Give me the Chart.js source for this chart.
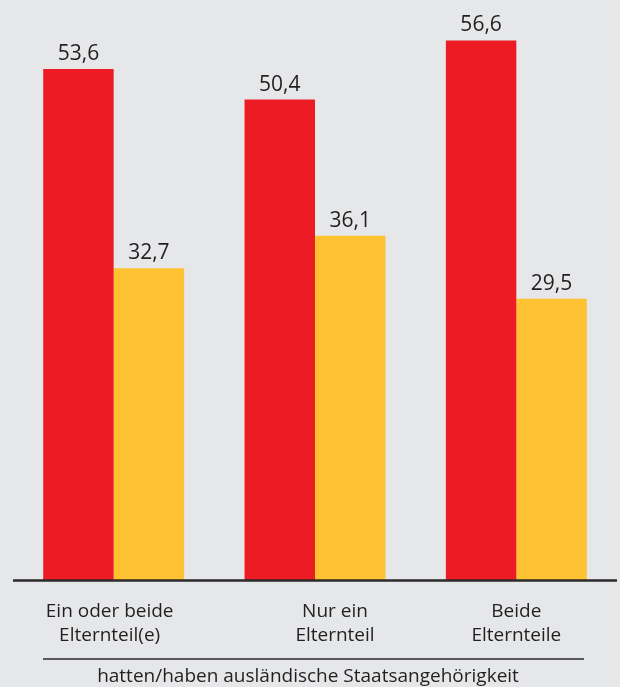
<!DOCTYPE html>
<html>
<head>
<meta charset="utf-8">
<script src="https://cdn.jsdelivr.net/npm/chart.js@4/dist/chart.umd.min.js"></script>
<style>
  html, body { margin: 0; padding: 0; background: #e6e7e9; }
  #wrap { position: relative; width: 620px; height: 687px; }
</style>
</head>
<body>
<div id="wrap"><canvas id="chart" width="620" height="687"></canvas></div>
<script>
// chart data
const categories = [["Ein oder beide", "Elternteil(e)"], ["Nur ein", "Elternteil"], ["Beide", "Elternteile"]]
const seriesRed = [53.6, 50.4, 56.6]
const seriesYellow = [32.7, 36.1, 29.5]
const footerText = "hatten/haben ausländische Staatsangehörigkeit"

const FONT = "'Open Sans', 'Noto Sans', sans-serif"
const TEXT = "#231f20"

// value labels above each bar
const valueLabels = {
  id: "valueLabels",
  afterDatasetsDraw(chart) {
    const ctx = chart.ctx
    ctx.save()
    ctx.font = "21px " + FONT
    ctx.fillStyle = TEXT
    ctx.textAlign = "center"
    ctx.textBaseline = "alphabetic"
    chart.data.datasets.forEach((ds, i) => {
      chart.getDatasetMeta(i).data.forEach((bar, j) => {
        ctx.fillText(ds.data[j].toFixed(1).replace(".", ","), bar.x, bar.y - 9)
      })
    })
    ctx.restore()
  }
}

// category labels, baseline and footer
const axisDecor = {
  id: "axisDecor",
  afterDraw(chart) {
    const ctx = chart.ctx
    const x = chart.scales.x
    const bottom = chart.chartArea.bottom
    ctx.save()
    // baseline
    ctx.strokeStyle = "#2b2a2b"
    ctx.lineWidth = 2.5
    ctx.beginPath()
    ctx.moveTo(13, bottom + 0.5)
    ctx.lineTo(617, bottom + 0.5)
    ctx.stroke()

    // category labels (middle one sits a bit right in the original)
    const shift = [-4, 20, 0]
    ctx.font = "19px " + FONT
    ctx.fillStyle = TEXT
    ctx.textAlign = "center"
    ctx.textBaseline = "middle"
    categories.forEach((lines, i) => {
      const cx = x.getPixelForValue(i) + shift[i]
      lines.forEach((t, k) => ctx.fillText(t, cx, bottom + 32 + k * 24))
    })

    // footer rule and text
    ctx.strokeStyle = "#2b2a2b"
    ctx.lineWidth = 1.5
    ctx.beginPath()
    ctx.moveTo(43, 659)
    ctx.lineTo(584, 659)
    ctx.stroke()
    ctx.fillText(footerText, 308, 677)
    ctx.restore()
  }
}

new Chart(document.getElementById("chart"), {
  type: "bar",
  data: {
    labels: categories,
    datasets: [
      { data: seriesRed, backgroundColor: "#ed1c24" },
      { data: seriesYellow, backgroundColor: "#fec232" }
    ]
  },
  options: {
    responsive: false,
    animation: false,
    devicePixelRatio: 1,
    layout: { padding: { left: 13, right: 3, top: 8, bottom: 107 } },
    categoryPercentage: 0.7,
    barPercentage: 1.0,
    plugins: { legend: { display: false }, tooltip: { enabled: false } },
    scales: {
      x: {
        offset: true,
        grid: { display: false, drawTicks: false },
        border: { display: false },
        ticks: { display: false }
      },
      y: {
        min: 0,
        max: 60,
        display: false
      }
    }
  },
  plugins: [valueLabels, axisDecor]
})
</script>
</body>
</html>
